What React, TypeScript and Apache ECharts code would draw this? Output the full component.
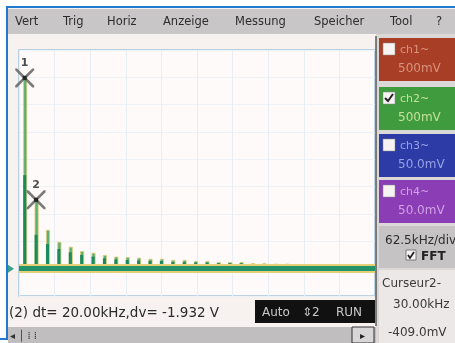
import React, { useEffect, useRef } from "react";
import * as echarts from "echarts";

// Odd harmonics of a 10 kHz square wave (kHz)
const harmonicKHz = [10, 30, 50, 70, 90, 110, 130, 150, 170, 190, 210, 230, 250, 270, 290, 310, 330, 350, 370, 390, 410, 430, 450, 470, 490];
// Peak magnitude of each harmonic
const peakLevel = [349, 126, 71, 49, 40, 32, 29, 25, 22, 21, 20, 18, 18, 16, 16, 14, 14, 12, 12, 12, 10, 10, 9, 9, 8];
// Solid body of each spectral line
const bodyLevel = [171, 62, 45, 36, 30, 25, 22, 19, 17, 16, 15, 14, 14, 12, 12, 11, 11, 10, 10, 10, 8, 8, 7, 7, 6];

// Cursor positions
const cursorKHz = [10, 30];
const cursorLevel = [349, 126];
const cursorNames = ["1", "2"];

const menuItems = ["Vert", "Trig", "Horiz", "Anzeige", "Messung", "Speicher", "Tool", "?"];
const channelNames = ["ch1~", "ch2~", "ch3~", "ch4~"];
const channelScales = ["500mV", "500mV", "50.0mV", "50.0mV"];
const channelOn = [false, true, false, false];

const FONT = "DejaVu Sans";

const xSymbol =
  "path://M0,0 L2,0 L10,8 L18,0 L20,0 L20,2 L12,10 L20,18 L20,20 L18,20 L10,12 L2,20 L0,20 L0,18 L8,10 L0,2 Z";

function buildGraphics(zeroY: number) {
  const menuX = [15, 63, 107, 163, 235, 314, 390, 436];
  const chTop = [38, 87, 134, 180];
  const chFill = ["#a83e26", "#3f9b3d", "#2c3ba6", "#8a3db5"];
  const chInk = ["#d8927e", "#c6e09c", "#98a2e4", "#d2a0e6"];

  const g: any[] = [];
  g.push({ type: "rect", silent: true, z: -10, shape: { x: 8, y: 8, width: 447, height: 335 }, style: { fill: "#f7f2f0" } });
  // menu bar
  g.push({ type: "rect", silent: true, shape: { x: 8, y: 9, width: 447, height: 25 }, style: { fill: "#c8c6c7" } });
  menuItems.forEach((m, i) => {
    g.push({
      type: "text", silent: true, x: menuX[i], y: 21,
      style: { text: m, fill: "#2e2c2e", font: `11.5px "${FONT}"`, textVerticalAlign: "middle" },
    });
  });
  // outer blue frame
  g.push({
    type: "polyline", silent: true, z: 20,
    shape: { points: [[0, 339], [7, 339], [7, 7], [455, 7]] },
    style: { stroke: "#2279d0", lineWidth: 2, fill: null },
  });
  // right panel
  g.push({ type: "rect", silent: true, shape: { x: 376, y: 34, width: 79, height: 309 }, style: { fill: "#dcd8d7" } });
  channelNames.forEach((name, i) => {
    const top = chTop[i];
    g.push({ type: "rect", silent: true, shape: { x: 379, y: top, width: 76, height: 43 }, style: { fill: chFill[i] } });
    g.push({ type: "rect", silent: true, shape: { x: 383, y: top + 5, width: 12, height: 12 }, style: { fill: "#f6f3f2", stroke: "#8a8a8a", lineWidth: 0.5 } });
    if (channelOn[i]) {
      g.push({
        type: "polyline", silent: true,
        shape: { points: [[385, top + 11], [388, top + 14], [393, top + 7]] },
        style: { stroke: "#222", lineWidth: 2, fill: null },
      });
    }
    g.push({ type: "text", silent: true, x: 400, y: top + 11, style: { text: name, fill: chInk[i], font: `11px "${FONT}"`, textVerticalAlign: "middle" } });
    g.push({ type: "text", silent: true, x: 398, y: top + 30, style: { text: channelScales[i], fill: chInk[i], font: `12px "${FONT}"`, textVerticalAlign: "middle" } });
  });
  // timebase / FFT box
  g.push({ type: "rect", silent: true, shape: { x: 379, y: 226, width: 76, height: 42 }, style: { fill: "#c5c3c3" } });
  g.push({ type: "text", silent: true, x: 385, y: 240, style: { text: "62.5kHz/div", fill: "#2e2e2e", font: `12px "${FONT}"`, textVerticalAlign: "middle" } });
  g.push({ type: "rect", silent: true, shape: { x: 406, y: 250, width: 10, height: 10 }, style: { fill: "#f4f2f2", stroke: "#666", lineWidth: 0.8 } });
  g.push({ type: "polyline", silent: true, shape: { points: [[408, 255], [410, 258], [414, 252]] }, style: { stroke: "#222", lineWidth: 1.8, fill: null } });
  g.push({ type: "text", silent: true, x: 421, y: 256, style: { text: "FFT", fill: "#222", font: `bold 12px "${FONT}"`, textVerticalAlign: "middle" } });
  // cursor readout
  g.push({ type: "rect", silent: true, shape: { x: 379, y: 270, width: 76, height: 73 }, style: { fill: "#ebe8e7" } });
  g.push({ type: "text", silent: true, x: 382, y: 283, style: { text: "Curseur2-", fill: "#3a3a3a", font: `12px "${FONT}"`, textVerticalAlign: "middle" } });
  g.push({ type: "text", silent: true, x: 393, y: 304, style: { text: "30.00kHz", fill: "#3a3a3a", font: `12px "${FONT}"`, textVerticalAlign: "middle" } });
  g.push({ type: "text", silent: true, x: 388, y: 332, style: { text: "-409.0mV", fill: "#3a3a3a", font: `12px "${FONT}"`, textVerticalAlign: "middle" } });
  // separator between plot and panel
  g.push({ type: "line", silent: true, shape: { x1: 376, y1: 36, x2: 376, y2: 326 }, style: { stroke: "#5a5a5a", lineWidth: 1.5 } });
  // status line
  const dt = (cursorKHz[1] - cursorKHz[0]).toFixed(2);
  g.push({ type: "text", silent: true, x: 9, y: 312, style: { text: `(2) dt= ${dt}kHz,dv= -1.932 V`, fill: "#2a2a2a", font: `13.5px "${FONT}"`, textVerticalAlign: "middle" } });
  g.push({ type: "rect", silent: true, shape: { x: 255, y: 300, width: 120, height: 23 }, style: { fill: "#111" } });
  g.push({ type: "text", silent: true, x: 262, y: 312, style: { text: "Auto", fill: "#c8c8c8", font: `12px "${FONT}"`, textVerticalAlign: "middle" } });
  g.push({ type: "text", silent: true, x: 302, y: 312, style: { text: "⇕2", fill: "#c8c8c8", font: `12px "${FONT}"`, textVerticalAlign: "middle" } });
  g.push({ type: "text", silent: true, x: 336, y: 312, style: { text: "RUN", fill: "#c8c8c8", font: `12px "${FONT}"`, textVerticalAlign: "middle" } });
  // scrollbar
  g.push({ type: "rect", silent: true, shape: { x: 8, y: 327, width: 368, height: 16 }, style: { fill: "#c0bebe" } });
  g.push({ type: "text", silent: true, x: 10, y: 335, style: { text: "◂ │ ⁞ ⁞", fill: "#333", font: `10px "${FONT}"`, textVerticalAlign: "middle" } });
  g.push({ type: "rect", silent: true, shape: { x: 352, y: 327, width: 22, height: 16 }, style: { fill: "#d8d6d6", stroke: "#333", lineWidth: 1 } });
  g.push({ type: "text", silent: true, x: 360, y: 335, style: { text: "▸", fill: "#222", font: `10px "${FONT}"`, textVerticalAlign: "middle" } });
  // channel ground marker
  g.push({
    type: "polygon", silent: true, z: 30,
    shape: { points: [[8, zeroY - 4], [14, zeroY], [8, zeroY + 4]] },
    style: { fill: "#3aa08a" },
  });
  return g;
}

export default function App() {
  const ref = useRef<HTMLDivElement>(null);

  useEffect(() => {
    if (!ref.current) return;
    const chart = echarts.init(ref.current, undefined, { renderer: "svg" });

    const option: any = {
      animation: false,
      backgroundColor: "#ffffff",
      grid: {
        left: 19, top: 50, width: 356, height: 246,
        show: true, backgroundColor: "#fdfaf9", borderColor: "#a6c6e0", borderWidth: 1.5,
      },
      xAxis: {
        type: "value", min: 0, max: 625, interval: 62.5,
        axisLine: { show: false }, axisTick: { show: false }, axisLabel: { show: false },
        splitLine: { show: true, lineStyle: { color: "#e6eef6", width: 1 } },
      },
      yAxis: {
        type: "value", min: -50, max: 400, interval: 50,
        axisLine: { show: false }, axisTick: { show: false }, axisLabel: { show: false },
        splitLine: { show: true, lineStyle: { color: "#edf2f7", width: 1 } },
      },
      series: [
        {
          type: "bar", name: "peak", barWidth: 4, barGap: "-100%", z: 2,
          data: harmonicKHz.map((f, i) => [f, peakLevel[i]]),
          itemStyle: { color: "#5eae76", borderColor: "#e0cb74", borderWidth: 0.8 },
        },
        {
          type: "bar", name: "body", barWidth: 3, barGap: "-100%", z: 3,
          data: harmonicKHz.map((f, i) => [f, bodyLevel[i]]),
          itemStyle: { color: "#1b8a5e" },
          markLine: {
            silent: true, symbol: "none", label: { show: false },
            data: [
              { yAxis: 0, lineStyle: { color: "#e6cf74", width: 9, type: "solid" } },
              { yAxis: 0, lineStyle: { color: "#23936a", width: 5, type: "solid" } },
            ],
          },
        },
        {
          type: "scatter", name: "cursor", z: 5,
          symbol: xSymbol, symbolSize: 19,
          data: cursorKHz.map((f, i) => ({ value: [f, cursorLevel[i]], name: cursorNames[i] })),
          itemStyle: { color: "#5a5a5a", opacity: 0.8 },
          label: { show: true, position: "top", distance: 0, formatter: "{b}", color: "#222", fontSize: 11, fontFamily: FONT, fontWeight: "bold" },
        },
        {
          type: "scatter", name: "cursorDot", z: 6,
          symbol: "rect", symbolSize: 4,
          data: cursorKHz.map((f, i) => [f, cursorLevel[i]]),
          itemStyle: { color: "#111" },
        },
      ],
    };
    chart.setOption(option);
    const zeroY = chart.convertToPixel({ gridIndex: 0 }, [0, 0])[1];
    chart.setOption({ graphic: buildGraphics(zeroY) });

    return () => chart.dispose();
  }, []);

  return (
    <div
      ref={ref}
      style={{ position: "fixed", left: 0, top: 0, width: 455, height: 343, filter: "blur(0.6px)" }}
    />
  );
}
